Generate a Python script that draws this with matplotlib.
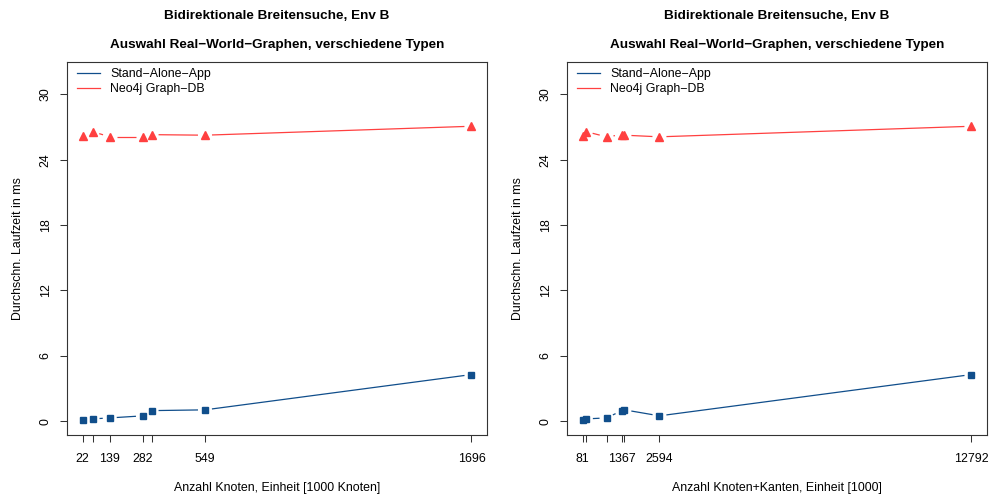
import numpy as np
import matplotlib
matplotlib.use("Agg")
import matplotlib.pyplot as plt

plt.rcParams["font.family"] = ["Liberation Sans", "DejaVu Sans"]

# Graph sizes
nodes_k = [22, 65, 139, 282, 319, 549, 1696]
nodes_labeled = [22, 139, 282, 549, 1696]
nodes_edges_k = [81, 189, 865, 1367, 1450, 2594, 12792]
nodes_edges_labeled = [81, 1367, 2594, 12792]

# Mean runtimes (ms), ordered as the x values of each panel
app_by_nodes = [0.12, 0.21, 0.30, 0.49, 0.97, 1.04, 4.28]
neo_by_nodes = [26.20, 26.58, 26.10, 26.10, 26.30, 26.25, 27.07]
app_by_ne = [0.12, 0.21, 0.30, 0.97, 1.04, 0.49, 4.28]
neo_by_ne = [26.20, 26.58, 26.10, 26.30, 26.25, 26.10, 27.07]

y_ticks = [0, 6, 12, 18, 24, 30]
y_max = 31.7

title1 = "Bidirektionale Breitensuche, Env B"
title2 = "Auswahl Real\u2212World\u2212Graphen, verschiedene Typen"
ylabel = "Durchschn. Laufzeit in ms"
xlabels = ["Anzahl Knoten, Einheit [1000 Knoten]",
           "Anzahl Knoten+Kanten, Einheit [1000]"]
series_names = ["Stand\u2212Alone\u2212App", "Neo4j Graph\u2212DB"]

BLUE = "#104E8B"
RED = "#FF4040"
FS = 8.9

W, H = 993, 498
fig = plt.figure(figsize=(W / 100, H / 100), dpi=100)


def gapped_line(ax, x, y, color, gap_px=7.0):
    """Connect points like R's type='b': segments stop short of each marker."""
    pts = ax.transData.transform(np.column_stack([x, y]))
    inv = ax.transData.inverted()
    for p0, p1 in zip(pts[:-1], pts[1:]):
        d = p1 - p0
        length = np.hypot(*d)
        if length <= 2 * gap_px:
            continue
        u = d / length
        seg = inv.transform(np.array([p0 + u * gap_px, p1 - u * gap_px]))
        ax.plot(seg[:, 0], seg[:, 1], color=color, lw=0.9,
                solid_capstyle="butt")


def panel(left_px, xs, labeled, app, neo, xlabel):
    ax = fig.add_axes([left_px / W, (H - 435) / H, 420 / W, 373 / H])
    span = max(xs) - min(xs)
    ax.set_xlim(min(xs) - 0.04 * span, max(xs) + 0.04 * span)
    ax.set_ylim(-0.04 * y_max, 1.04 * y_max)

    # Legend handles (lines only)
    ax.plot([], [], color=BLUE, lw=0.9, label=series_names[0])
    ax.plot([], [], color=RED, lw=0.9, label=series_names[1])

    gapped_line(ax, xs, app, BLUE)
    gapped_line(ax, xs, neo, RED)
    ax.plot(xs, app, ls="none", marker="s", ms=4.5, color=BLUE, mec=BLUE)
    ax.plot(xs, neo, ls="none", marker="^", ms=5.3, color=RED, mec=RED)

    ax.set_xticks(xs)
    ax.set_xticklabels([str(v) if v in labeled else "" for v in xs])
    ax.set_yticks(y_ticks)
    ax.set_yticklabels([str(v) for v in y_ticks], rotation=90, va="center")
    ax.tick_params(axis="both", direction="out", length=5, width=0.75,
                   labelsize=FS, color="#333333")
    ax.tick_params(axis="x", pad=8)
    ax.tick_params(axis="y", pad=6)
    for s in ax.spines.values():
        s.set_linewidth(0.8)
        s.set_color("#333333")

    ax.annotate(title1, xy=(0.5, 1), xycoords="axes fraction",
                xytext=(0, 46), textcoords="offset pixels",
                ha="center", va="center", fontsize=9.7, fontweight="bold")
    ax.annotate(title2, xy=(0.5, 1), xycoords="axes fraction",
                xytext=(0, 17), textcoords="offset pixels",
                ha="center", va="center", fontsize=9.7, fontweight="bold")
    ax.annotate(xlabel, xy=(0.5, 0), xycoords="axes fraction",
                xytext=(0, -53), textcoords="offset pixels",
                ha="center", va="center", fontsize=FS)
    ax.annotate(ylabel, xy=(0, 0.5), xycoords="axes fraction",
                xytext=(-49, 0), textcoords="offset pixels",
                ha="center", va="center", fontsize=FS, rotation=90)

    ax.legend(loc="upper left", bbox_to_anchor=(10 / 420, 1 - 6 / 373),
              frameon=False, fontsize=FS, borderaxespad=0, borderpad=0,
              handlelength=1.9, handletextpad=0.8, labelspacing=0.25)
    return ax


panel(67, nodes_k, nodes_labeled, app_by_nodes, neo_by_nodes, xlabels[0])
panel(567, nodes_edges_k, nodes_edges_labeled, app_by_ne, neo_by_ne, xlabels[1])

fig.savefig("out.png", dpi=100)
